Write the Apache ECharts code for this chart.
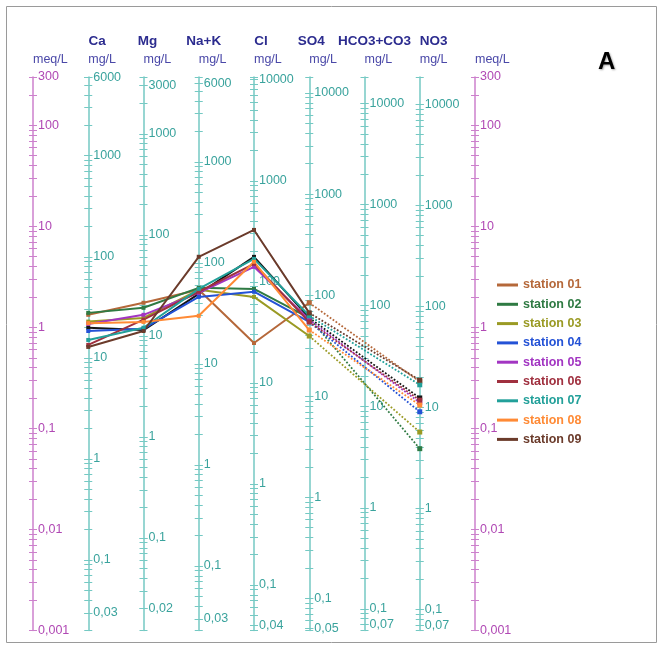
<!DOCTYPE html>
<html><head><meta charset="utf-8">
<script src="https://cdn.jsdelivr.net/npm/echarts@6/dist/echarts.min.js"></script>
<style>html,body{margin:0;padding:0;background:#fff}#c{width:664px;height:647px}</style>
</head><body><div id="c"></div><script>
// ---------- data ----------
const ions = ['Ca', 'Mg', 'Na+K', 'Cl', 'SO4', 'HCO3+CO3', 'NO3'];
const eqWeights = [20.04, 12.15, 23.0, 35.45, 48.03, 61.02, 62.0];
const meqRange = [0.001, 300];
const meqLabels = [300, 100, 10, 1, 0.1, 0.01, 0.001];
const caLabels = [6000, 1000, 100, 10, 1, 0.1, 0.03];
const mgLabels = [3000, 1000, 100, 10, 1, 0.1, 0.02];
const naLabels = [6000, 1000, 100, 10, 1, 0.1, 0.03];
const clLabels = [10000, 1000, 100, 10, 1, 0.1, 0.04];
const so4Labels = [10000, 1000, 100, 10, 1, 0.1, 0.05];
const hco3Labels = [10000, 1000, 100, 10, 1, 0.1, 0.07];
const no3Labels = [10000, 1000, 100, 10, 1, 0.1, 0.07];
const ionLabels = [caLabels, mgLabels, naLabels, clLabels, so4Labels, hco3Labels, no3Labels];

const stationNames = ['station 01', 'station 02', 'station 03', 'station 04', 'station 05',
  'station 06', 'station 07', 'station 08', 'station 09'];
// values in meq/L : Ca, Mg, Na+K, Cl, SO4, HCO3+CO3 (not measured), NO3
const station01 = [1.33, 1.75, 2.35, 0.70, 1.75, null, 0.29];
const station02 = [1.39, 1.56, 2.46, 2.40, 1.24, null, 0.063];
const station03 = [1.14, 1.24, 2.35, 2.00, 0.82, null, 0.092];
const station04 = [0.92, 0.97, 2.00, 2.25, 1.13, null, 0.146];
const station05 = [1.08, 1.33, 2.19, 3.97, 1.19, null, 0.18];
const station06 = [0.67, 1.19, 2.25, 4.25, 1.13, null, 0.19];
const station07 = [0.75, 0.99, 2.40, 4.76, 1.30, null, 0.27];
const station08 = [1.10, 1.13, 1.30, 4.45, 0.94, null, 0.17];
const station09 = [0.64, 0.92, 4.99, 9.20, 1.39, null, 0.30];
const unlabeledLine = [0.99, 0.94, 2.14, 4.98, 1.24, null, 0.20];
const stationValues = [station01, station02, station03, station04, station05,
  station06, station07, station08, station09];

// ---------- styling ----------
const stationColors = ['#b5683a', '#2f7a43', '#9a9a24', '#2452d6', '#a235c2',
  '#a0303f', '#22a09a', '#ff8a35', '#6b3b2b'];
const meqColor = '#cc80cc', meqLabelColor = '#b048b4';
const mgColor = '#74c9c3', mgLabelColor = '#3aa39d';
const unitColor = '#4a48a8';
const fontFam = 'Liberation Sans, Arial, sans-serif';

const W = 664, H = 647;
const gridLeft = 33, gridRightX = 475, gridTop = 77, gridBottomY = 630.5;
const step = (gridRightX - gridLeft) / 8;

function tickValues(min, max, extra) {
  const t = [];
  for (let e = -4; e <= 5; e++) for (let k = 1; k <= 9; k++) {
    const v = +(k * Math.pow(10, e)).toPrecision(8);
    if (v > min * 1.0001 && v < max * 0.9999) t.push(v);
  }
  t.push(+(min * 1.00001).toPrecision(10), +(max * 0.99999).toPrecision(10));
  return t.concat(extra || []);
}
const fmt = v => String(+(+v).toPrecision(6)).replace('.', ',');

const yAxes = [];
function addAxisPair(position, offset, min, max, labels, lineColor, labelColor, unit) {
  const ticks = tickValues(min, max, labels);
  const base = {
    type: 'log', logBase: 10, min: min, max: max, position: position, offset: offset,
    splitLine: { show: false }, axisLine: { onZero: false },
  };
  yAxes.push(Object.assign({}, base, {
    name: unit, nameLocation: 'end', nameGap: 17,
    nameTextStyle: { color: unitColor, fontSize: 12.5, fontFamily: fontFam, align: 'left', verticalAlign: 'middle' },
    axisLine: { show: true, onZero: false, lineStyle: { color: lineColor, width: 1.5 } },
    axisTick: { show: true, inside: position === 'left', length: 4, customValues: ticks, lineStyle: { color: lineColor, width: 1 } },
    axisLabel: { show: true, inside: position === 'left', margin: 5, customValues: labels, formatter: fmt,
      color: labelColor, fontSize: 12.5, fontFamily: fontFam, hideOverlap: false }
  }));
  yAxes.push(Object.assign({}, base, {
    axisLine: { show: false, onZero: false },
    axisTick: { show: true, inside: position !== 'left', length: 4, customValues: ticks, lineStyle: { color: lineColor, width: 1 } },
    axisLabel: { show: false }
  }));
}
// left meq/L axis (index 0, used by the series)
addAxisPair('left', 0, meqRange[0], meqRange[1], meqLabels, meqColor, meqLabelColor, 'meq/L');
ions.forEach((ion, i) => {
  addAxisPair('left', -step * (i + 1), meqRange[0] * eqWeights[i], meqRange[1] * eqWeights[i],
    ionLabels[i], mgColor, mgLabelColor, 'mg/L');
});
// right meq/L axis
addAxisPair('right', 0, meqRange[0], meqRange[1], meqLabels, meqColor, meqLabelColor, 'meq/L');
yAxes[yAxes.length - 2].axisTick.inside = false;
yAxes[yAxes.length - 2].axisLabel.inside = false;
yAxes[yAxes.length - 1].axisTick.inside = true;

const categories = [''].concat(ions).concat(['']);
const headerPad = [18, 8, 10, 14, 4, 20, 28];
const rich = {};
headerPad.forEach((p, i) => {
  rich['h' + (i + 1)] = { padding: [0, 0, 0, p], fontWeight: 'bold', fontSize: 13.5, color: '#2c2c8f', fontFamily: fontFam };
});

function solidData(vals) { return [null].concat(vals.slice(0, 5)).concat([null, null, null]); }
function dotData(vals) { return [null, null, null, null, null, vals[4], vals[5], vals[6], null]; }

const series = [];
function addStation(name, vals, color) {
  series.push({
    name: name, type: 'line', yAxisIndex: 0, data: solidData(vals),
    symbol: 'rect', symbolSize: 4, showSymbol: true,
    lineStyle: { color: color, width: 2 }, itemStyle: { color: color },
    connectNulls: false, z: 3
  });
  series.push({
    name: name, type: 'line', yAxisIndex: 0, data: dotData(vals),
    symbol: 'rect', symbolSize: 5, showSymbol: true,
    lineStyle: { color: color, width: 1.8, type: 'dotted' }, itemStyle: { color: color },
    connectNulls: true, z: 3
  });
}
addStation('unlabeled', unlabeledLine, '#151515');
stationNames.forEach((n, i) => addStation(n, stationValues[i], stationColors[i]));

const option = {
  animation: false,
  backgroundColor: '#fff',
  title: { text: 'A', left: 593, top: 45,
    textStyle: { fontSize: 24, fontWeight: 900, color: '#000', fontFamily: fontFam,
      textShadowColor: 'rgba(0,0,0,0.35)', textShadowBlur: 2, textShadowOffsetX: 1, textShadowOffsetY: 1 } },
  grid: { left: gridLeft, right: W - gridRightX, top: gridTop, bottom: H - gridBottomY },
  xAxis: {
    type: 'category', data: categories, boundaryGap: false, position: 'top',
    axisLine: { show: false }, axisTick: { show: false }, splitLine: { show: false },
    axisLabel: { margin: 29, interval: 0,
      formatter: (v, i) => v ? '{h' + i + '|' + v + '}' : '', rich: rich }
  },
  yAxis: yAxes,
  legend: {
    orient: 'vertical', left: 497, top: 278, padding: 0, itemWidth: 21, itemHeight: 3, itemGap: 5.3,
    icon: 'rect', selectedMode: false,
    textStyle: { fontSize: 12.5, fontWeight: 'bold', fontFamily: fontFam, lineHeight: 14 },
    data: stationNames.map((n, i) => ({ name: n, textStyle: { color: stationColors[i] } }))
  },
  graphic: [{ type: 'rect', shape: { x: 6.5, y: 6.5, width: 650, height: 636 },
    style: { fill: 'none', stroke: '#9a9a9a', lineWidth: 1 }, z: -1 }],
  series: series
};
echarts.init(document.getElementById('c'), null, { renderer: 'canvas' }).setOption(option);
</script></body></html>
